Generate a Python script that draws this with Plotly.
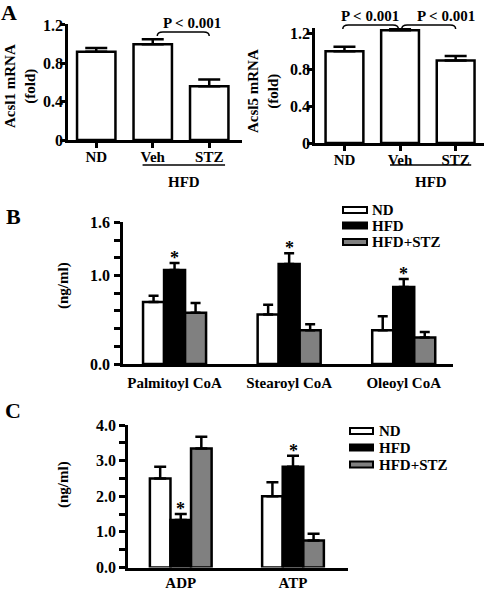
import plotly.graph_objects as go

# ---------------- data ----------------
a_groups = ["ND", "Veh", "STZ"]
acsl1_mean = [0.92, 1.00, 0.56]
acsl1_err = [0.04, 0.05, 0.07]
acsl5_mean = [1.00, 1.23, 0.90]
acsl5_err = [0.05, 0.02, 0.05]

series_names = ["ND", "HFD", "HFD+STZ"]
series_colors = ["white", "black", "#808080"]

b_cats = ["Palmitoyl CoA", "Stearoyl CoA", "Oleoyl CoA"]
b_nd = [0.70, 0.56, 0.38]
b_nd_err = [0.07, 0.11, 0.16]
b_hfd = [1.06, 1.13, 0.87]
b_hfd_err = [0.08, 0.12, 0.09]
b_stz = [0.58, 0.38, 0.30]
b_stz_err = [0.11, 0.07, 0.06]

c_cats = ["ADP", "ATP"]
c_nd = [2.50, 2.00]
c_nd_err = [0.33, 0.39]
c_hfd = [1.33, 2.83]
c_hfd_err = [0.17, 0.31]
c_stz = [3.34, 0.76]
c_stz_err = [0.33, 0.19]

W, H = 486, 590
FONT = "Liberation Serif, Times New Roman, serif"
LW = 2.5


def px(x):
    return x / W


def py(y):
    return 1 - y / H


def err(arr, cap):
    return dict(type="data", array=arr, arrayminus=[0] * len(arr), symmetric=False,
                color="black", thickness=LW, width=cap)


fig = go.Figure()

# Panel A bars
fig.add_trace(go.Bar(x=a_groups, y=acsl1_mean, width=0.68,
                     marker=dict(color="white", line=dict(color="black", width=LW)),
                     error_y=err(acsl1_err, 11), xaxis="x", yaxis="y", showlegend=False))
fig.add_trace(go.Bar(x=a_groups, y=acsl5_mean, width=0.68,
                     marker=dict(color="white", line=dict(color="black", width=LW)),
                     error_y=err(acsl5_err, 11), xaxis="x2", yaxis="y2", showlegend=False))

# Panel B bars
for name, col, vals, errs in zip(series_names, series_colors,
                                 [b_nd, b_hfd, b_stz], [b_nd_err, b_hfd_err, b_stz_err]):
    fig.add_trace(go.Bar(x=b_cats, y=vals, name=name,
                         marker=dict(color=col, line=dict(color="black", width=LW)),
                         error_y=err(errs, 5), xaxis="x3", yaxis="y3", showlegend=False))

# Panel C bars
for name, col, vals, errs in zip(series_names, series_colors,
                                 [c_nd, c_hfd, c_stz], [c_nd_err, c_hfd_err, c_stz_err]):
    fig.add_trace(go.Bar(x=c_cats, y=vals, name=name,
                         marker=dict(color=col, line=dict(color="black", width=LW)),
                         error_y=err(errs, 6), xaxis="x4", yaxis="y4", showlegend=False))

TICKFONT = dict(family=FONT, size=16, color="black", weight="bold")
axis_common = dict(showline=True, linecolor="black", linewidth=LW, showgrid=False,
                   zeroline=False, ticks="outside", tickcolor="black", tickwidth=LW,
                   ticklen=5, tickfont=TICKFONT)

fig.update_layout(
    width=W, height=H, autosize=False,
    margin=dict(l=0, r=0, t=0, b=0, pad=0, autoexpand=False),
    paper_bgcolor="white", plot_bgcolor="white",
    font=dict(family=FONT, size=15, color="black", weight="bold"),
    barmode="group", bargap=0.45, bargroupgap=0,
    xaxis=dict(domain=[px(68), px(242)], anchor="y", type="category",
               range=[-0.5, 2.58], ticklabelstandoff=-4,
               **{**axis_common, "tickfont": dict(TICKFONT, size=15)}),
    yaxis=dict(domain=[py(140), py(24)], anchor="x", range=[0, 1.21],
               tickvals=[0, 0.4, 0.8, 1.2], ticktext=["0", "0.4", "0.8", "1.2"],
               ticklabelstandoff=-6, **axis_common),
    xaxis2=dict(domain=[px(315), px(484)], anchor="y2", type="category",
                range=[-0.53, 2.51], ticklabelstandoff=-4,
                **{**axis_common, "tickfont": dict(TICKFONT, size=15)}),
    yaxis2=dict(domain=[py(143), py(28)], anchor="x2", range=[0, 1.255],
                tickvals=[0, 0.4, 0.8, 1.2], ticktext=["0", "0.4", "0.8", "1.2"],
                ticklabelstandoff=-6, **axis_common),
    xaxis3=dict(domain=[px(123), px(453)], anchor="y3", type="category",
                range=[-0.45, 2.43], ticklabelstandoff=3,
                **{**axis_common, "ticks": "", "tickfont": dict(TICKFONT, size=15)}),
    yaxis3=dict(domain=[py(364), py(222.3)], anchor="x3", range=[0, 1.6],
                tickvals=[0, 0.2, 0.4, 0.6, 0.8, 1.0, 1.2, 1.4, 1.6],
                ticktext=["0.0", "", "", "", "", "1.0", "", "", "1.6"],
                ticklabelstandoff=1, **{**axis_common, "ticklen": 6}),
    xaxis4=dict(domain=[px(128), px(348)], anchor="y4", type="category",
                range=[-0.47, 1.49], ticklabelstandoff=0,
                **{**axis_common, "ticks": "", "tickfont": dict(TICKFONT, size=15)}),
    yaxis4=dict(domain=[py(567.5), py(425)], anchor="x4", range=[0, 4],
                tickvals=[0, 0.5, 1, 1.5, 2, 2.5, 3, 3.5, 4],
                ticktext=["0.0", "", "1.0", "", "2.0", "", "3.0", "", "4.0"],
                ticklabelstandoff=0, **{**axis_common, "ticklen": 6}),
)

txt = dict(family=FONT, size=15, color="black", weight="bold")
ann = []
shapes = []

# panel letters
for letter, (lx, ly) in zip("ABC", [(9, 13), (13, 217), (13, 410)]):
    ann.append(dict(text=letter, x=px(lx), y=py(ly), xref="paper", yref="paper",
                    xanchor="center", yanchor="middle",
                    showarrow=False, font=dict(family=FONT, size=22, color="black", weight="bold")))

# y titles
ann.append(dict(text="Acsl1 mRNA<br>(fold)", x=px(20), y=py(86), xref="paper", yref="paper",
                xanchor="center", yanchor="middle",
                textangle=-90, showarrow=False, font=txt))
ann.append(dict(text="Acsl5 mRNA<br>(fold)", x=px(263), y=py(91), xref="paper", yref="paper",
                xanchor="center", yanchor="middle",
                textangle=-90, showarrow=False, font=txt))
ann.append(dict(text="(ng/ml)", x=px(63), y=py(286), xref="paper", yref="paper",
                xanchor="center", yanchor="middle",
                textangle=-90, showarrow=False, font=txt))
ann.append(dict(text="(ng/ml)", x=px(63), y=py(485), xref="paper", yref="paper",
                xanchor="center", yanchor="middle",
                textangle=-90, showarrow=False, font=txt))


def bracket(xa, x0, x1, yb, yt, d=0.1):
    return dict(type="path", xref=xa, yref="paper",
                path=f"M {x0},{py(yb)} Q {x0},{py(yt)} {x0 + d},{py(yt)} L {x1 - d},{py(yt)} "
                     f"Q {x1},{py(yt)} {x1},{py(yb)}",
                line=dict(color="black", width=1.5))


# significance brackets and labels, panel A
shapes.append(bracket("x", 1.08, 2.0, 36, 32))
ann.append(dict(text="P < 0.001", x=1.70, y=py(23), xref="x", yref="paper",
                xanchor="center", yanchor="middle", showarrow=False, font=txt))
shapes.append(bracket("x2", -0.03, 0.97, 29, 25))
shapes.append(bracket("x2", 1.03, 2.0, 29, 25))
ann.append(dict(text="P < 0.001", x=0.46, y=py(16), xref="x2", yref="paper",
                xanchor="center", yanchor="middle", showarrow=False, font=txt))
ann.append(dict(text="P < 0.001", x=1.83, y=py(16), xref="x2", yref="paper",
                xanchor="center", yanchor="middle", showarrow=False, font=txt))

# HFD group underline
for xa in ["x", "x2"]:
    shapes.append(dict(type="line", xref=xa, yref="paper", x0=0.82, x1=2.28,
                       y0=py(165), y1=py(165), line=dict(color="black", width=1.5)))
    ann.append(dict(text="HFD", x=1.55, y=py(182), xref=xa, yref="paper",
                    xanchor="center", yanchor="middle", showarrow=False, font=txt))

# stars on HFD bars
for xa, ya, cats, vals, errs in [("x3", "y3", b_cats, b_hfd, b_hfd_err),
                                 ("x4", "y4", c_cats, c_hfd, c_hfd_err)]:
    for c, v, e in zip(cats, vals, errs):
        ann.append(dict(text="*", x=c, y=v + e, xref=xa, yref=ya, showarrow=False,
                        xanchor="center", yanchor="middle", yshift=5,
                        font=dict(family=FONT, size=18, color="black", weight="bold")))

# custom legends
for (bx0, bx1, tx, ys) in [(343, 367, 370, [210, 225.5, 242]),
                           (350, 373, 377, [431, 447.5, 464.5])]:
    for name, col, yc in zip(series_names, series_colors, ys):
        shapes.append(dict(type="rect", xref="paper", yref="paper",
                           x0=px(bx0), x1=px(bx1), y0=py(yc + 3), y1=py(yc - 3),
                           fillcolor=col, line=dict(color="black", width=2)))
        ann.append(dict(text=name, x=px(tx), y=py(yc), xref="paper", yref="paper",
                        xanchor="left", yanchor="middle", showarrow=False, font=txt))

fig.update_layout(annotations=ann, shapes=shapes)
fig.write_html("out.html", config={"displayModeBar": False},
               post_script="document.body.style.margin='0px';")
